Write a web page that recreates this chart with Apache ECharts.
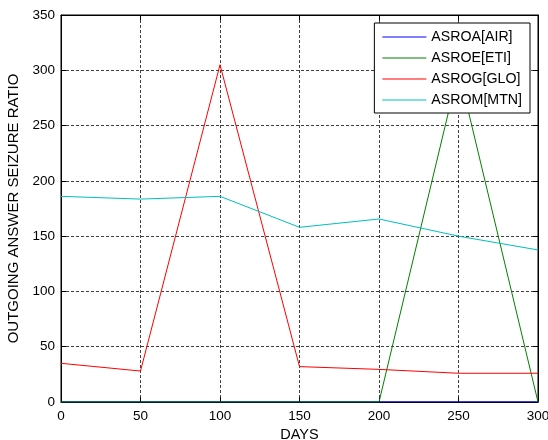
<!DOCTYPE html>
<html>
<head>
<meta charset="utf-8">
<script src="https://cdn.jsdelivr.net/npm/echarts@6/dist/echarts.min.js"></script>
<style>
html,body{margin:0;padding:0;background:#fff;}
#chart{width:548px;height:440px;}
</style>
</head>
<body>
<div id="chart"></div>
<script>
var days = [0, 50, 100, 150, 200, 250, 300];
var seriesNames = ['ASROA[AIR]', 'ASROE[ETI]', 'ASROG[GLO]', 'ASROM[MTN]'];
var asroaAir = [0, 0, 0, 0, 0, 0, 0];
var asroeEti = [0, 0, 0, 0, 0, 300, 0];
var asrogGlo = [35, 28, 305, 32, 29.5, 26, 26];
var asromMtn = [186, 183.5, 186, 158, 165.5, 150, 137.5];
var seriesColors = ['#0000ff', '#008000', '#ff0000', '#00bfbf'];
var xTicks = [0, 50, 100, 150, 200, 250, 300];
var yTicks = [0, 50, 100, 150, 200, 250, 300, 350];

var values = [asroaAir, asroeEti, asrogGlo, asromMtn];
var font = 'Liberation Sans, Arial, sans-serif';

var chart = echarts.init(document.getElementById('chart'), null, {renderer: 'canvas'});
var series = values.map(function (vals, i) {
  return {
    name: seriesNames[i],
    type: 'line',
    data: days.map(function (d, j) { return [d, vals[j]]; }),
    showSymbol: false,
    symbol: 'none',
    color: seriesColors[i],
    lineStyle: {color: seriesColors[i], width: 1},
    itemStyle: {color: seriesColors[i]},
    z: 3 + i
  };
});

var axisCommon = {
  axisLine: {show: true, onZero: false, lineStyle: {color: '#000', width: 1}},
  axisTick: {show: true, inside: true, length: 5, lineStyle: {color: '#000'}},
  splitLine: {show: true, lineStyle: {color: '#000', type: [3, 2], width: 1, opacity: 0.75}},
  axisLabel: {color: '#000', fontSize: 13.5, fontFamily: font},
  nameTextStyle: {color: '#000', fontSize: 14.5, fontFamily: font}
};
var mirror = {
  axisLine: {show: true, onZero: false, lineStyle: {color: '#000', width: 1}},
  axisTick: {show: true, inside: true, length: 5, lineStyle: {color: '#000'}},
  splitLine: {show: false},
  axisLabel: {show: false}
};

var legendData = seriesNames.map(function (n, i) {
  return {
    name: n,
    icon: 'rect',
    itemStyle: {color: seriesColors[i], borderWidth: 0}
  };
});

chart.setOption({
  animation: false,
  backgroundColor: '#fff',
  grid: {left: 61, right: 10, top: 15, bottom: 38, outerBoundsMode: 'none', containLabel: false,
    show: true, borderColor: '#000', borderWidth: 1, backgroundColor: '#fff'},
  legend: {
    data: legendData,
    orient: 'vertical',
    right: 18,
    top: 23,
    z: 20,
    backgroundColor: '#fff',
    borderColor: '#000',
    borderWidth: 1,
    padding: [6, 8, 5, 8],
    itemGap: 5,
    itemWidth: 44,
    itemHeight: 1.2,
    textStyle: {color: '#000', fontSize: 14.2, fontFamily: font, height: 16, lineHeight: 16}
  },
  xAxis: [
    Object.assign({}, axisCommon, {
      type: 'value', min: 0, max: 300, interval: 50, position: 'bottom',
      name: 'DAYS', nameLocation: 'middle', nameGap: 25,
      axisLabel: Object.assign({}, axisCommon.axisLabel, {margin: 7,
        formatter: function (v) { return xTicks.indexOf(v) >= 0 ? String(v) : ''; }})
    }),
    Object.assign({}, mirror, {type: 'value', min: 0, max: 300, interval: 50, position: 'top'})
  ],
  yAxis: [
    Object.assign({}, axisCommon, {
      type: 'value', min: 0, max: 350, interval: 50, position: 'left',
      name: 'OUTGOING ANSWER SEIZURE RATIO', nameLocation: 'middle', nameGap: 33,
      nameTextStyle: Object.assign({}, axisCommon.nameTextStyle, {fontSize: 15}),
      axisLabel: Object.assign({}, axisCommon.axisLabel, {margin: 6,
        formatter: function (v) { return yTicks.indexOf(v) >= 0 ? String(v) : ''; }})
    }),
    Object.assign({}, mirror, {type: 'value', min: 0, max: 350, interval: 50, position: 'right'})
  ],
  series: series
});
</script>
</body>
</html>
